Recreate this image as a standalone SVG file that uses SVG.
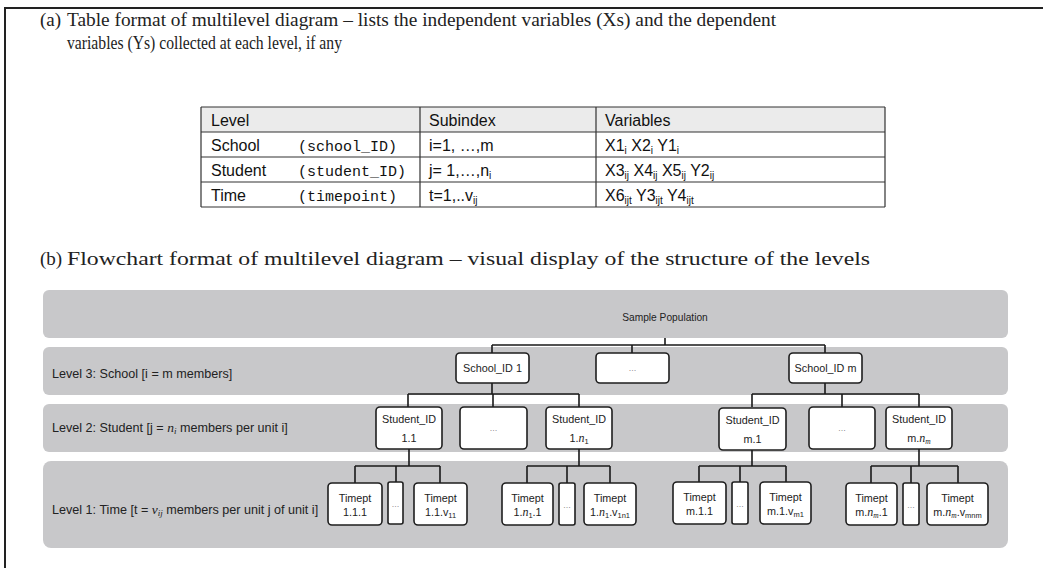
<svg xmlns="http://www.w3.org/2000/svg" width="1043" height="568" viewBox="0 0 1043 568">
<style>
.hd{font-family:"Liberation Serif",serif;font-size:19px;fill:#222}
.tb{font-family:"Liberation Sans",Arial,sans-serif;font-size:16px;fill:#111}
.sb{font-size:10px}
.mono{font-family:"Liberation Mono",monospace;font-size:15px;fill:#111}
.band{fill:#c8c8ca}
.bx{fill:#fff;stroke:#1e1e1e;stroke-width:1.6}
.lb{font-family:"Liberation Sans",Arial,sans-serif;font-size:12.6px;fill:#222}
.sp{font-family:"Liberation Sans",Arial,sans-serif;font-size:10.2px;fill:#222;text-anchor:middle}
.bt{font-family:"Liberation Sans",Arial,sans-serif;font-size:10.8px;fill:#222;text-anchor:middle}
.dots{font-family:"Liberation Sans",Arial,sans-serif;font-size:8px;fill:#555;text-anchor:middle}
.mi{font-family:"Liberation Serif",serif;font-style:italic}
.cn{fill:none;stroke:#1a1a1a;stroke-width:1.6}
.tl{stroke:#333;stroke-width:1.2;fill:none}
</style>
<path d="M5,568 V8 H1043" fill="none" stroke="#222" stroke-width="2"/>
<g id="heading-a">
<text class="hd" x="40" y="26">(a)</text>
<text class="hd" x="67" y="26" textLength="709" lengthAdjust="spacingAndGlyphs">Table format of multilevel diagram – lists the independent variables (Xs) and the dependent</text>
<text class="hd" x="67" y="49" textLength="275" lengthAdjust="spacingAndGlyphs">variables (Ys) collected at each level, if any</text>
</g>
<g id="table">
<rect x="201" y="107" width="684" height="25" fill="#ebebeb"/>
<path class="tl" d="M201,107 H885 M201,132 H885 M201,157 H885 M201,182 H885 M201,207 H885 M201,107 V207 M420,107 V207 M596,107 V207 M885,107 V207"/>
<text class="tb" x="211" y="126">Level</text>
<text class="tb" x="429" y="126">Subindex</text>
<text class="tb" x="605" y="126">Variables</text>
<text class="tb" x="211" y="151">School</text>
<text class="mono" x="298" y="151">(school_ID)</text>
<text class="tb" x="429" y="151">i=1, …,m</text>
<text class="tb" x="605" y="151">X1<tspan class="sb" dy="3">i</tspan><tspan dy="-3"> X2</tspan><tspan class="sb" dy="3">i</tspan><tspan dy="-3"> Y1</tspan><tspan class="sb" dy="3">i</tspan></text>
<text class="tb" x="211" y="176">Student</text>
<text class="mono" x="298" y="176">(student_ID)</text>
<text class="tb" x="429" y="176">j= 1,…,n<tspan class="sb" dy="3">i</tspan></text>
<text class="tb" x="605" y="176">X3<tspan class="sb" dy="3">ij</tspan><tspan dy="-3"> X4</tspan><tspan class="sb" dy="3">ij</tspan><tspan dy="-3"> X5</tspan><tspan class="sb" dy="3">ij</tspan><tspan dy="-3"> Y2</tspan><tspan class="sb" dy="3">ij</tspan></text>
<text class="tb" x="211" y="201">Time</text>
<text class="mono" x="298" y="201">(timepoint)</text>
<text class="tb" x="429" y="201">t=1,..v<tspan class="sb" dy="3">ij</tspan></text>
<text class="tb" x="605" y="201">X6<tspan class="sb" dy="3">ijt</tspan><tspan dy="-3"> Y3</tspan><tspan class="sb" dy="3">ijt</tspan><tspan dy="-3"> Y4</tspan><tspan class="sb" dy="3">ijt</tspan></text>
</g>
<g id="heading-b">
<text class="hd" x="40" y="265" font-size="22">(b)</text>
<text class="hd" x="67" y="265" font-size="22" textLength="803" lengthAdjust="spacingAndGlyphs">Flowchart format of multilevel diagram – visual display of the structure of the levels</text>
</g>
<g id="bands">
<rect class="band" x="43" y="290" width="965" height="48" rx="6"/>
<rect class="band" x="43" y="347" width="965" height="48" rx="6"/>
<rect class="band" x="43" y="404" width="965" height="48" rx="6"/>
<rect class="band" x="43" y="461" width="965" height="87" rx="8"/>
<text class="sp" x="665" y="321">Sample Population</text>
<text class="lb" x="52" y="378">Level 3: School [i = m members]</text>
<text class="lb" x="52" y="432">Level 2: Student [j = <tspan class="mi" font-size="13.5">n</tspan><tspan class="mi" font-size="9" dy="2">i</tspan><tspan dy="-2"> members per unit i]</tspan></text>
<text class="lb" x="52" y="514">Level 1: Time [t = <tspan class="mi" font-size="13.5">v</tspan><tspan class="mi" font-size="9" dy="2">ij</tspan><tspan dy="-2"> members per unit j of unit i]</tspan></text>
</g>
<g id="connectors" class="cn">
<path d="M665,338 V345 M492,345 H825 M492,345 V353 M632,345 V353 M825,345 V353"/>
<path d="M492,383 V394 M408,394 H579 M408,394 V407 M493,394 V407 M579,394 V407"/>
<path d="M825,383 V394 M752,394 H919 M752,394 V407 M842,394 V407 M919,394 V407"/>
<path d="M409,449 V466 M355,466 H440 M355,466 V483 M396,466 V483 M440,466 V483"/>
<path d="M579,449 V466 M527,466 H610 M527,466 V483 M567,466 V483 M610,466 V483"/>
<path d="M752,449 V466 M699,466 H786 M699,466 V483 M740,466 V483 M786,466 V483"/>
<path d="M919,449 V466 M871,466 H958 M871,466 V483 M911,466 V483 M958,466 V483"/>
</g>
<g id="school-1"><rect class="bx" x="456" y="353" width="73" height="30" rx="4"/><text class="bt" x="492.5" y="372">School_ID 1</text></g>
<g id="school-dots"><rect class="bx" x="596" y="353" width="73" height="30" rx="4"/><text class="dots" x="632.5" y="371">…</text></g>
<g id="school-m"><rect class="bx" x="789" y="353" width="73" height="30" rx="4"/><text class="bt" x="825.5" y="372">School_ID m</text></g>
<g id="student-1-1"><rect class="bx" x="376" y="407" width="66" height="42" rx="4"/><text class="bt" x="409" y="423">Student_ID</text><text class="bt" x="409" y="442">1.1</text></g>
<g id="student-1-dots"><rect class="bx" x="460" y="407" width="67" height="42" rx="4"/><text class="dots" x="493.5" y="431">…</text></g>
<g id="student-1-n1"><rect class="bx" x="546" y="407" width="66" height="42" rx="4"/><text class="bt" x="579" y="423">Student_ID</text><text class="bt" x="579" y="442">1.<tspan class="mi" font-size="12">n</tspan><tspan font-size="7.5" dy="2">1</tspan></text></g>
<g id="student-m-1"><rect class="bx" x="719" y="408" width="67" height="42" rx="4"/><text class="bt" x="752.5" y="424">Student_ID</text><text class="bt" x="752.5" y="443">m.1</text></g>
<g id="student-m-dots"><rect class="bx" x="809" y="407" width="66" height="42" rx="4"/><text class="dots" x="842" y="431">…</text></g>
<g id="student-m-nm"><rect class="bx" x="886" y="407" width="66" height="42" rx="4"/><text class="bt" x="919" y="423">Student_ID</text><text class="bt" x="919" y="442">m.<tspan class="mi" font-size="12">n</tspan><tspan class="mi" font-size="7.5" dy="2">m</tspan></text></g>
<g id="t-1-1-1"><rect class="bx" x="328" y="483" width="54" height="42" rx="4"/><text class="bt" x="355" y="502">Timept</text><text class="bt" x="355" y="516">1.1.1</text></g>
<g id="t-1-1-dots"><rect class="bx" x="388" y="482" width="15" height="42" rx="2"/><text class="dots" x="395.5" y="507">…</text></g>
<g id="t-1-1-v"><rect class="bx" x="414" y="483" width="53" height="42" rx="4"/><text class="bt" x="440.5" y="502">Timept</text><text class="bt" x="440.5" y="516">1.1.v<tspan font-size="7.5" dy="2">11</tspan></text></g>
<g id="t-1-n1-1"><rect class="bx" x="502" y="483" width="51" height="42" rx="4"/><text class="bt" x="527.5" y="502">Timept</text><text class="bt" x="527.5" y="516">1.<tspan class="mi" font-size="12">n</tspan><tspan font-size="7.5" dy="2">1</tspan><tspan dy="-2">.1</tspan></text></g>
<g id="t-1-n1-dots"><rect class="bx" x="559" y="483" width="16" height="42" rx="2"/><text class="dots" x="567" y="508">…</text></g>
<g id="t-1-n1-v"><rect class="bx" x="584" y="483" width="52" height="42" rx="4"/><text class="bt" x="610" y="502">Timept</text><text class="bt" x="610" y="516">1.<tspan class="mi" font-size="12">n</tspan><tspan font-size="7.5" dy="2">1</tspan><tspan dy="-2">.v</tspan><tspan font-size="7.5" dy="2">1n1</tspan></text></g>
<g id="t-m-1-1"><rect class="bx" x="673" y="482" width="53" height="42" rx="4"/><text class="bt" x="699.5" y="501">Timept</text><text class="bt" x="699.5" y="515">m.1.1</text></g>
<g id="t-m-1-dots"><rect class="bx" x="732" y="482" width="16" height="42" rx="2"/><text class="dots" x="740" y="507">…</text></g>
<g id="t-m-1-v"><rect class="bx" x="760" y="482" width="51" height="42" rx="4"/><text class="bt" x="785.5" y="501">Timept</text><text class="bt" x="785.5" y="515">m.1.v<tspan font-size="7.5" dy="2">m1</tspan></text></g>
<g id="t-m-nm-1"><rect class="bx" x="846" y="483" width="51" height="42" rx="4"/><text class="bt" x="871.5" y="502">Timept</text><text class="bt" x="871.5" y="516">m.<tspan class="mi" font-size="12">n</tspan><tspan class="mi" font-size="7.5" dy="2">m</tspan><tspan dy="-2">.1</tspan></text></g>
<g id="t-m-nm-dots"><rect class="bx" x="903" y="483" width="16" height="42" rx="2"/><text class="dots" x="911" y="508">…</text></g>
<g id="t-m-nm-v"><rect class="bx" x="927" y="483" width="61" height="42" rx="4"/><text class="bt" x="957.5" y="502">Timept</text><text class="bt" x="957.5" y="516">m.<tspan class="mi" font-size="12">n</tspan><tspan class="mi" font-size="7.5" dy="2">m</tspan><tspan dy="-2">.v</tspan><tspan font-size="7.5" dy="2">mnm</tspan></text></g>
</svg>
